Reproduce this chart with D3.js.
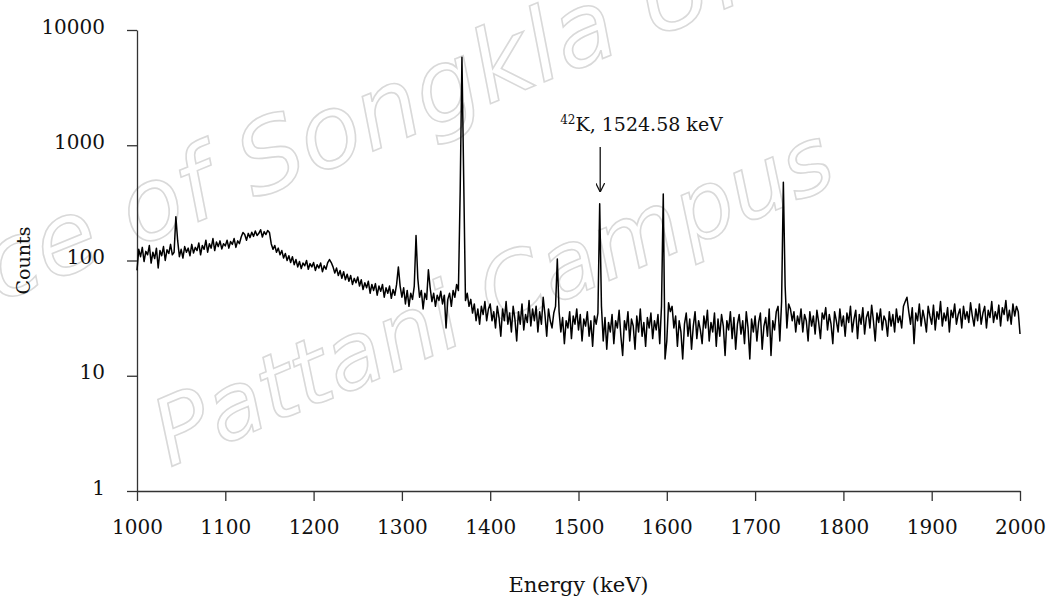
<!DOCTYPE html>
<html>
<head>
<meta charset="utf-8">
<script src="https://cdn.jsdelivr.net/npm/d3@7"></script>
<style>
  body { margin: 0; background: #fff; }
  svg { display: block; }
</style>
</head>
<body>
<div id="chart"></div>
<script>
// spectrum: counts per 2 keV bin, starting at 1000 keV
const energyStart = 1000;
const energyStep = 2;
const counts = [
  // 1000-1048
  82,125,108,130,98,120,112,135,95,118,104,128,86,122,110,132,100,124,115,138,112,118,240,150,108,
  // 1050-1098
  125,105,132,118,128,110,138,116,130,122,142,112,135,125,150,118,140,128,155,122,145,132,148,126,140,
  // 1100-1148
  134,150,128,146,138,155,130,148,140,160,175,168,150,172,158,176,162,180,165,172,185,160,178,168,182,
  // 1150-1198
  175,140,125,135,118,128,112,122,105,115,100,110,96,108,92,102,88,98,85,95,90,100,84,94,88,
  // 1200-1248
  96,82,92,86,95,80,90,84,96,102,96,88,78,86,74,82,70,80,68,76,66,74,62,70,64,
  // 1250-1298
  72,60,68,56,64,58,66,52,62,55,63,50,60,54,62,48,58,52,60,47,56,50,62,88,60,
  // 1300-1348
  48,58,42,55,40,52,46,60,165,70,48,55,38,52,46,83,58,44,52,40,50,45,54,42,50,
  // 1350-1398
  26,46,52,40,55,48,62,55,400,5800,500,45,52,40,46,35,42,30,38,28,40,34,44,30,38,
  // 1400-1448
  42,30,36,26,40,32,22,38,30,44,28,35,24,40,31,20,36,28,42,25,34,29,45,27,38,
  // 1450-1498
  30,40,24,36,28,48,34,22,38,30,26,35,40,103,36,24,32,19,30,26,36,21,33,28,38,
  // 1500-1548
  25,34,20,31,27,36,22,30,18,33,28,35,310,40,20,32,17,29,24,34,19,30,26,37,22,
  // 1550-1598
  15,30,25,36,20,31,27,17,33,24,38,22,29,18,32,26,35,21,30,25,34,19,40,377,14,
  // 1600-1648
  20,43,36,40,26,33,18,30,24,14,28,35,22,31,17,27,36,21,30,25,19,33,26,37,20,
  // 1650-1698
  29,24,35,18,31,22,34,27,15,30,25,36,21,32,17,28,34,23,30,19,36,26,14,31,24,
  // 1700-1748
  33,20,29,35,17,27,32,22,38,15,30,25,36,40,20,44,478,60,26,42,38,30,36,24,33,
  // 1750-1798
  28,38,24,34,30,20,36,27,33,23,37,29,21,35,31,39,25,34,28,19,36,30,24,38,27,
  // 1800-1848
  33,22,35,29,40,24,31,37,21,34,28,39,23,32,36,26,41,30,20,35,29,38,25,33,30,
  // 1850-1898
  22,36,27,34,24,38,29,33,26,40,44,48,36,28,39,19,35,30,42,27,37,31,24,40,33,
  // 1900-1948
  28,41,25,36,31,44,27,35,30,39,24,37,32,42,28,34,38,26,40,31,36,29,43,33,27,
  // 1950-2000
  38,30,42,28,35,40,26,37,32,44,29,36,31,41,27,39,34,45,30,37,28,42,33,40,36,23
];
const xTicks = [1000,1100,1200,1300,1400,1500,1600,1700,1800,1900,2000];
const yTicks = [1,10,100,1000,10000];
const annotation = { energy: 1524.58, label: "K, 1524.58 keV", isotope: "42" };

const width = 1051, height = 603;
const margin = { top: 30, right: 31, bottom: 112, left: 137 };

const spectrum = counts.map((c, i) => ({ e: energyStart + i * energyStep, c: c }));

const svg = d3.select("#chart").append("svg")
  .attr("width", width)
  .attr("height", height);

svg.append("rect").attr("width", width).attr("height", height).attr("fill", "white");

// watermark behind the chart (cut off at the edges like the source)
const wm = svg.append("g")
  .attr("fill", "none")
  .attr("stroke", "#d9d9d9")
  .attr("stroke-width", 1.6)
  .attr("font-family", "DejaVu Sans, sans-serif")
  .attr("font-style", "italic")
  .attr("text-anchor", "middle");
wm.append("text")
  .attr("transform", "translate(470,112) rotate(-22)")
  .attr("font-size", 100)
  .text("Prince of Songkla University");
wm.append("text")
  .attr("transform", "translate(505,325) rotate(-23)")
  .attr("font-size", 92)
  .text("Pattani Campus");

const x = d3.scaleLinear()
  .domain([1000, 2000])
  .range([margin.left, width - margin.right]);

const y = d3.scaleLog()
  .domain([1, 10000])
  .range([height - margin.bottom, margin.top]);

// axes
const xAxis = svg.append("g")
  .attr("transform", `translate(0,${height - margin.bottom})`)
  .call(d3.axisBottom(x).tickValues(xTicks).tickFormat(d3.format("d")).tickSize(10).tickSizeOuter(0).tickPadding(19));

const yAxis = svg.append("g")
  .attr("transform", `translate(${margin.left},0)`)
  .call(d3.axisLeft(y).tickValues(yTicks).tickFormat(d3.format("d")).tickSize(10).tickSizeOuter(0).tickPadding(22));

[xAxis, yAxis].forEach(g => {
  g.select(".domain").attr("stroke", "#333").attr("stroke-width", 1.3);
  g.selectAll(".tick line").attr("stroke", "#333").attr("stroke-width", 1.3);
  g.selectAll(".tick text")
    .attr("fill", "#111")
    .attr("font-family", "DejaVu Serif, serif");
});
xAxis.selectAll(".tick text").attr("font-size", 20);
yAxis.selectAll(".tick text").attr("font-size", 20).attr("dy", "0.15em");

// spectrum line
const line = d3.line()
  .x(d => x(d.e))
  .y(d => y(d.c));

svg.append("path")
  .datum(spectrum)
  .attr("fill", "none")
  .attr("stroke", "#000")
  .attr("stroke-width", 1.5)
  .attr("stroke-linejoin", "round")
  .attr("d", line);

// axis titles
svg.append("text")
  .attr("x", (margin.left + width - margin.right) / 2)
  .attr("y", 592)
  .attr("text-anchor", "middle")
  .attr("font-family", "DejaVu Serif, serif")
  .attr("font-size", 21)
  .attr("fill", "#111")
  .text("Energy (keV)");

svg.append("text")
  .attr("transform", `translate(30,${y(100)}) rotate(-90)`)
  .attr("text-anchor", "middle")
  .attr("font-family", "DejaVu Serif, serif")
  .attr("font-size", 19)
  .attr("fill", "#111")
  .text("Counts");

// annotation for the 42K line
const ax = x(annotation.energy);
const ann = svg.append("text")
  .attr("x", ax - 40)
  .attr("y", 131)
  .attr("font-family", "DejaVu Serif, serif")
  .attr("font-size", 19)
  .attr("fill", "#111");
ann.append("tspan").attr("font-size", 12).attr("dy", -7).text(annotation.isotope);
ann.append("tspan").attr("dy", 7).text(annotation.label);

svg.append("defs").append("marker")
  .attr("id", "arrow")
  .attr("viewBox", "0 0 10 10")
  .attr("refX", 10).attr("refY", 5)
  .attr("markerWidth", 9).attr("markerHeight", 9)
  .attr("markerUnits", "userSpaceOnUse")
  .attr("orient", "auto")
  .append("path")
  .attr("d", "M0,0 L10,5 L0,10")
  .attr("fill", "none")
  .attr("stroke", "#111")
  .attr("stroke-width", 1.4);

svg.append("line")
  .attr("x1", ax).attr("x2", ax)
  .attr("y1", 147).attr("y2", 192)
  .attr("stroke", "#111")
  .attr("stroke-width", 1.3)
  .attr("marker-end", "url(#arrow)");
</script>
</body>
</html>
